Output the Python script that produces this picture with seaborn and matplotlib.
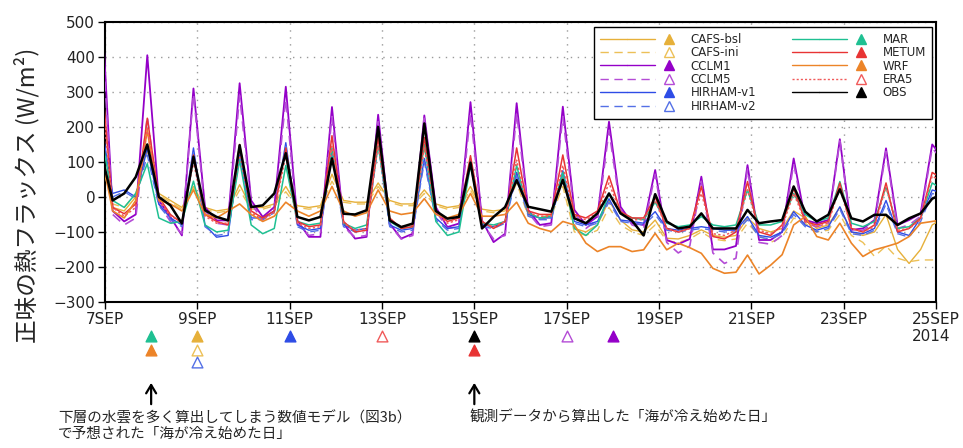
import pandas as pd
import seaborn as sns
import matplotlib.pyplot as plt
import matplotlib.dates as mdates
from matplotlib.lines import Line2D
from matplotlib.legend_handler import HandlerTuple

sns.set_theme(style='white')
plt.rcParams['font.family'] = ['DejaVu Sans', 'Noto Sans CJK JP']
jp_font = ['Noto Sans CJK JP', 'DejaVu Sans']

# 6-hourly samples (first sample sits just left of the axis)
times = pd.date_range('2014-09-06 22:00', periods=74, freq='6h')

obs = [125,
       -10, 10, 57, 150,   0, -24, -76, 115,   -38, -57, -67, 148,   -29, -24, 10, 125,
       -57, -67, -57, 110,   -48, -50, -38, 200,   -67, -86, -76, 210,   -40, -62, -57, 98,
       -90, -57, -29, 48,   -28, -35, -42, 49,   -61, -75, -47, 10,   -47, -68, -110, 8,
       -70, -90, -85, -47,   -90, -90, -90, -37,   -75, -70, -66, 30,   -42, -70, -51, 22,
       -61, -70, -51, -51,   -80, -61, -47, -5,
       10]
cclm1 = [575,
         -40, -70, -50, 405,   -10, -57, -110, 310,   -29, -67, -67, 325,   -10, -57, -29, 315,
         -67, -114, -114, 257,   -76, -119, -114, 235,   -76, -119, -105, 233,   -29, -86, -76, 271,
         -67, -129, -105, 268,   -37, -80, -75, 258,   -37, -80, -56, 215,   -28, -75, -80, 77,
         -123, -135, -120, 58,   -150, -150, -140, 91,   -123, -123, -100, 110,   -66, -75, -66, 165,
         -94, -90, -66, 139,   -80, -66, -47, 150,
         110]
cclm5 = [520,
         -50, -80, -60, 230,   -20, -70, -105, 295,   -40, -75, -80, 290,   -20, -65, -40, 280,
         -75, -110, -105, 230,   -85, -115, -110, 215,   -80, -120, -110, 225,   -40, -90, -85, 240,
         -75, -120, -110, 240,   -45, -85, -80, 230,   -45, -90, -65, 190,   -35, -80, -90, 65,
         -130, -160, -140, 45,   -160, -190, -175, 80,   -130, -135, -110, 95,   -75, -85, -75, 160,
         -100, -95, -75, 130,   -90, -80, -55, 140,
         100]
metum = [360,
         -30, -48, -20, 225,   0, -50, -75, 120,   -50, -70, -80, 150,   -40, -60, -40, 140,
         -70, -85, -80, 175,   -70, -100, -95, 170,   -60, -90, -85, 170,   -40, -70, -60, 118,
         -70, -90, -70, 140,   -40, -50, -50, 120,   -50, -60, -40, 60,   -42, -60, -60, 0,
         -90, -100, -90, 30,   -113, -120, -100, 44,   -100, -110, -80, 25,   -70, -80, -70, 40,
         -90, -100, -80, 40,   -100, -90, -60, 70,
         50]
era5 = [315,
        -30, -55, -30, 195,   -10, -55, -70, 100,   -55, -75, -75, 125,   -45, -65, -45, 120,
        -75, -90, -85, 145,   -75, -95, -90, 150,   -65, -85, -80, 140,   -45, -75, -65, 100,
        -75, -85, -70, 105,   -45, -55, -55, 90,   -55, -65, -45, 40,   -45, -65, -65, -10,
        -90, -100, -90, 10,   -105, -110, -95, 20,   -95, -105, -85, 10,   -70, -85, -75, 30,
        -90, -100, -85, 30,   -95, -90, -65, 60,
        40]
hirham1 = [212,
           10, 20, 0, 140,   -20, -60, -80, 140,   -80, -115, -110, 130,   -60, -60, -40, 155,
           -80, -95, -90, 130,   -80, -95, -90, 160,   -80, -95, -90, 110,   -60, -90, -85, 110,
           -80, -85, -70, 70,   -50, -60, -60, 75,   -70, -80, -70, -5,   -66, -70, -75, -42,
           -90, -95, -90, -85,   -90, -95, -95, -56,   -110, -115, -100, -42,   -80, -95, -85, -28,
           -100, -105, -90, -10,   -100, -110, -60, 20,
           10]
hirham2 = [195,
           0, 15, -5, 120,   -25, -65, -85, 130,   -85, -110, -105, 120,   -65, -65, -45, 145,
           -85, -100, -95, 120,   -85, -100, -95, 150,   -85, -100, -95, 100,   -65, -95, -90, 100,
           -85, -90, -75, 60,   -55, -65, -65, 65,   -75, -85, -75, -15,   -70, -75, -80, -50,
           -95, -100, -95, -90,   -95, -100, -100, -65,   -115, -120, -105, -50,   -85, -100, -90, -35,
           -105, -110, -95, -20,   -105, -115, -70, 10,
           0]
mar = [185,
       -10, -30, 10, 95,   -60, -75, -70, 45,   -80, -100, -95, 105,   -80, -105, -90, 90,
       -70, -80, -75, 140,   -75, -90, -80, 150,   -70, -90, -85, 150,   -70, -110, -100, 90,
       -75, -80, -70, 90,   -45, -60, -55, 70,   -90, -110, -80, 10,   -45, -60, -65, -15,
       -75, -85, -80, -56,   -80, -85, -80, 20,   -80, -80, -70, 10,   -50, -70, -60, 44,
       -75, -85, -70, 30,   -90, -85, -60, 40,
       20]
wrf = [125,
       -40, -60, -10, 190,   -10, -20, -40, 20,   -50, -60, -40, -20,   -50, -70, -55, -15,
       -40, -55, -40, 30,   -40, -55, -45, 20,   -40, -50, -45, -5,   -50, -60, -50, 10,
       -55, -55, -50, -15,   -75, -90, -99, -70,   -80, -132, -156, -142,   -142, -156, -151, -104,
       -151, -132, -145, -161,   -204, -218, -215, -166,   -220, -195, -165, -80,   -56, -113, -123, -75,
       -132, -170, -151, -142,   -132, -113, -75, -70,
       -65]
cafs_bsl = [135,
            -30, -40, 0, 150,   10, -10, -30, 30,   -30, -40, -35, 35,   -30, -30, -20, 30,
            -25, -30, -25, 65,   -10, -15, -15, 40,   -10, -20, -20, 20,   -20, -30, -25, 30,
            -35, -40, -35, 70,   -50, -60, -50, 60,   -90, -100, -80, -10,   -66, -94, -100, -66,
            -118, -120, -110, -94,   -110, -115, -110, -60,   -90, -100, -90, -40,   -60, -90, -80, -30,
            -100, -110, -100, -50,   -150, -190, -150, -80,
            -60]
cafs_ini = [100,
            -20, -30, 10, 130,   5, -15, -35, 25,   -35, -45, -40, 20,   -35, -35, -25, 15,
            -30, -35, -30, 45,   -15, -20, -20, 30,   -15, -25, -25, 10,   -25, -35, -30, 20,
            -40, -45, -40, 40,   -55, -65, -55, 30,   -100, -110, -95, -30,   -80, -100, -110, -80,
            -125, -130, -120, -100,   -120, -125, -120, -75,   -110, -130, -115, -60,   -75, -100, -95, -50,
            -110, -130, -170, -140,   -175, -185, -180, -180,
            -175]

models = ['CAFS-bsl', 'CAFS-ini', 'CCLM1', 'CCLM5', 'HIRHAM-v1', 'HIRHAM-v2',
          'MAR', 'METUM', 'WRF', 'ERA5', 'OBS']

# day the sea starts cooling, per model (row = stacking position under the axis)
cool_models = ['MAR', 'WRF', 'CAFS-bsl', 'CAFS-ini', 'HIRHAM-v2', 'HIRHAM-v1',
               'ERA5', 'OBS', 'METUM', 'CCLM5', 'CCLM1']
cool_dates = ['2014-09-08', '2014-09-08', '2014-09-09', '2014-09-09', '2014-09-09', '2014-09-11',
              '2014-09-13', '2014-09-15', '2014-09-15', '2014-09-17', '2014-09-18']
cool_rows = [0, 1, 0, 1, 2, 0, 0, 0, 1, 0, 0]

xticks = pd.date_range('2014-09-07', '2014-09-25', freq='2D')
xlabels = ['7SEP', '9SEP', '11SEP', '13SEP', '15SEP', '17SEP', '19SEP', '21SEP', '23SEP', '25SEP\n2014']

styles = {
    'CAFS-bsl': dict(color='#E6B03A', ls='-', lw=1.0, filled=True),
    'CAFS-ini': dict(color='#ECC057', ls=(0, (6, 4)), lw=1.0, filled=False),
    'CCLM1': dict(color='#9400C8', ls='-', lw=1.3, filled=True),
    'CCLM5': dict(color='#B44CD6', ls=(0, (6, 4)), lw=1.2, filled=False),
    'HIRHAM-v1': dict(color='#2E4CE6', ls='-', lw=1.0, filled=True),
    'HIRHAM-v2': dict(color='#5470E6', ls=(0, (6, 4)), lw=1.0, filled=False),
    'MAR': dict(color='#1FC092', ls='-', lw=1.1, filled=True),
    'METUM': dict(color='#E83434', ls='-', lw=1.1, filled=True),
    'WRF': dict(color='#EC8428', ls='-', lw=1.2, filled=True),
    'ERA5': dict(color='#F05A5A', ls=(0, (1.5, 1.5)), lw=1.1, filled=False),
    'OBS': dict(color='black', ls='-', lw=1.8, filled=True),
}

df = pd.DataFrame({'time': times, 'CAFS-bsl': cafs_bsl, 'CAFS-ini': cafs_ini, 'CCLM1': cclm1,
                   'CCLM5': cclm5, 'HIRHAM-v1': hirham1, 'HIRHAM-v2': hirham2, 'MAR': mar,
                   'METUM': metum, 'WRF': wrf, 'ERA5': era5, 'OBS': obs})
df = df.melt(id_vars='time', var_name='model', value_name='flux')

fig, ax = plt.subplots(figsize=(9.63, 4.48), dpi=100)
fig.subplots_adjust(left=0.109, right=0.972, top=0.951, bottom=0.326)

for name in models:
    st = styles[name]
    sns.lineplot(data=df[df['model'] == name], x='time', y='flux', color=st['color'],
                 linestyle=st['ls'], linewidth=st['lw'], ax=ax, legend=False,
                 zorder=5 if name == 'OBS' else 3)

ax.set_xlim(pd.Timestamp('2014-09-07'), pd.Timestamp('2014-09-25'))
ax.set_ylim(-300, 500)
ax.set_yticks(range(-300, 501, 100))
ax.set_xticks(xticks)
ax.set_xticklabels(xlabels)
ax.get_xticklabels()[-1].set_multialignment('left')
ax.set_xlabel('')
ax.set_ylabel('')
ax.grid(True, linestyle=(0, (1, 4)), color='#9a9a9a', linewidth=1.0)
for sp in ax.spines.values():
    sp.set_color('black')
    sp.set_linewidth(1.5)
ax.tick_params(axis='both', direction='out', length=5, width=1, color='black',
               labelsize=11, labelcolor='#222222', pad=2, bottom=True, left=True)

# cooling-day triangles under the time axis
row_y = [-0.121, -0.171, -0.214]
for name, day, row in zip(cool_models, cool_dates, cool_rows):
    st = styles[name]
    ax.scatter(mdates.date2num(pd.Timestamp(day)), row_y[row], marker='^', s=60,
               facecolor=st['color'] if st['filled'] else 'white', edgecolor=st['color'],
               linewidth=1.0, transform=ax.get_xaxis_transform(), clip_on=False, zorder=6)

# legend: line + triangle per model
handles = []
for name in models:
    st = styles[name]
    ln = Line2D([], [], color=st['color'], linestyle=st['ls'], linewidth=1.0)
    mk = Line2D([], [], linestyle='none', marker='^', markersize=6.5,
                markerfacecolor=st['color'] if st['filled'] else 'white',
                markeredgecolor=st['color'], markeredgewidth=1.0)
    handles.append((ln, ln, mk))
leg = ax.legend(handles, models, handler_map={tuple: HandlerTuple(ndivide=None, pad=0)},
                ncol=2, loc='upper right', bbox_to_anchor=(0.995, 0.982), borderaxespad=0,
                fontsize=8.5, handlelength=7.0, labelspacing=0.03, columnspacing=3.0,
                handletextpad=0.7, borderpad=0.5, frameon=True, fancybox=False,
                edgecolor='black', framealpha=1)
leg.get_frame().set_linewidth(1.0)
leg.set_zorder(10)

# arrows and notes
for day in ['2014-09-08', '2014-09-15']:
    x = mdates.date2num(pd.Timestamp(day))
    ax.annotate('', xy=(x, -0.279), xytext=(x, -0.375), xycoords=ax.get_xaxis_transform(),
                arrowprops=dict(arrowstyle='->,head_length=0.5,head_width=0.3', color='black',
                                lw=1.6, mutation_scale=12), annotation_clip=False)

fig.text(0.060, 0.065, '下層の水雲を多く算出してしまう数値モデル（図3b）', family=jp_font,
         fontsize=10.5, va='center', ha='left')
fig.text(0.060, 0.031, 'で予想された「海が冷え始めた日」', family=jp_font,
         fontsize=10.5, va='center', ha='left')
fig.text(0.488, 0.069, '観測データから算出した「海が冷え始めた日」', family=jp_font,
         fontsize=10.5, va='center', ha='left')
fig.text(0.028, 0.565, '正味の熱フラックス (W/m²)', family=jp_font, fontsize=17,
         rotation=90, va='center', ha='center')

fig.savefig('out.png', dpi=100)
